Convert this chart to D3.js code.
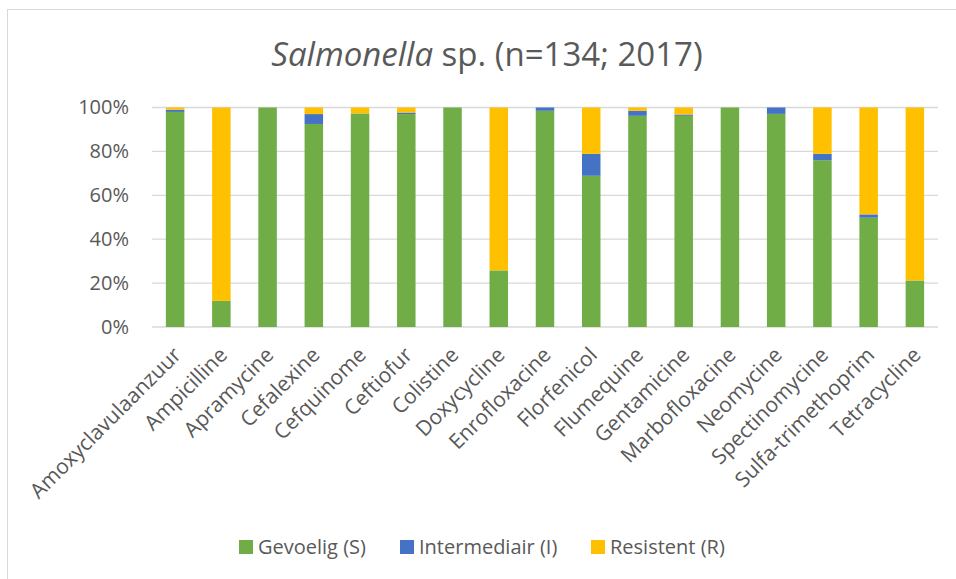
<!DOCTYPE html>
<html>
<head>
<meta charset="utf-8">
<script src="https://cdn.jsdelivr.net/npm/d3@7"></script>
<style>
  body { margin: 0; background: #fff; }
  svg text { font-family: 'Open Sans', sans-serif; fill: #595959; }
</style>
</head>
<body>
<div id="chart"></div>
<script>
const categories = ['Amoxyclavulaanzuur', 'Ampicilline', 'Apramycine', 'Cefalexine', 'Cefquinome',
  'Ceftiofur', 'Colistine', 'Doxycycline', 'Enrofloxacine', 'Florfenicol', 'Flumequine',
  'Gentamicine', 'Marbofloxacine', 'Neomycine', 'Spectinomycine', 'Sulfa-trimethoprim', 'Tetracycline'];
const gevoelig =     [98.0, 11.9, 100, 92.5, 97.3, 97.0, 100, 25.8, 98.5, 68.9, 96.2, 96.2, 100, 97.1, 76.0, 49.8, 21.2];
const intermediair = [1.0,  0,    0,   4.5,  0,    0.7,  0,   0,    1.5,  10.0, 2.3,  0.6,  0,   2.9,  2.9,  1.5,  0];
const resistent =    [1.0,  88.1, 0,   3.0,  2.7,  2.3,  0,   74.2, 0,    21.1, 1.5,  3.2,  0,   0,    21.1, 48.7, 78.8];
const seriesNames = ['Gevoelig (S)', 'Intermediair (I)', 'Resistent (R)'];
const colors = ['#70AD47', '#4472C4', '#FFC000'];
const yTicks = [0, 0.2, 0.4, 0.6, 0.8, 1];

const W = 956, H = 579;
const svg = d3.select('#chart').append('svg').attr('width', W).attr('height', H);

// chart frame
svg.append('rect')
  .attr('x', 7.5).attr('y', 9.5)
  .attr('width', W + 20).attr('height', H + 20)
  .attr('fill', 'none').attr('stroke', '#D9D9D9');

// title
const title = svg.append('text')
  .attr('x', 487).attr('y', 66)
  .attr('text-anchor', 'middle')
  .style('font-size', '33px');
title.append('tspan').style('font-style', 'italic').text('Salmonella');
title.append('tspan').text(' sp. (n=134; 2017)');

const x = d3.scaleBand().domain(categories).range([152, 938]).paddingInner(0.6).paddingOuter(0.3);
const y = d3.scaleLinear().domain([0, 1]).range([327, 107.5]);

// gridlines
svg.append('g')
  .selectAll('line')
  .data(yTicks)
  .join('line')
  .attr('x1', 152).attr('x2', 938)
  .attr('y1', d => y(d)).attr('y2', d => y(d))
  .attr('stroke', '#D9D9D9').attr('stroke-width', 1.3);

// y axis labels
svg.append('g')
  .call(d3.axisLeft(y).tickValues(yTicks).tickFormat(d3.format('.0%')).tickSize(0).tickPadding(0))
  .attr('transform', 'translate(129,0)')
  .call(g => g.select('.domain').remove())
  .selectAll('text')
  .style('font-size', '20px')
  .attr('fill', '#595959');

// stacked bars
const rows = categories.map((c, i) => ({ cat: c, s: gevoelig[i] / 100, i: intermediair[i] / 100, r: resistent[i] / 100 }));
const stack = d3.stack().keys(['s', 'i', 'r'])(rows);

svg.append('g')
  .selectAll('g')
  .data(stack)
  .join('g')
  .attr('fill', (d, k) => colors[k])
  .selectAll('rect')
  .data(d => d)
  .join('rect')
  .attr('x', d => x(d.data.cat))
  .attr('width', x.bandwidth())
  .attr('y', d => y(d[1]))
  .attr('height', d => y(d[0]) - y(d[1]));

// x axis labels
svg.append('g')
  .selectAll('text')
  .data(categories)
  .join('text')
  .attr('transform', d => `translate(${x(d) + x.bandwidth() / 2 + 2},${351}) rotate(-45)`)
  .attr('text-anchor', 'end')
  .attr('dy', '0.35em')
  .style('font-size', '21px')
  .text(d => d);

// legend
const legendX = [239, 400, 591];
const legend = svg.append('g')
  .selectAll('g')
  .data(seriesNames)
  .join('g')
  .attr('transform', (d, k) => `translate(${legendX[k]},547)`);
legend.append('rect')
  .attr('x', 0).attr('y', -7).attr('width', 14).attr('height', 14)
  .attr('fill', (d, k) => colors[k]);
legend.append('text')
  .attr('x', 19).attr('dy', '0.35em')
  .style('font-size', '20px')
  .text(d => d);
</script>
</body>
</html>
